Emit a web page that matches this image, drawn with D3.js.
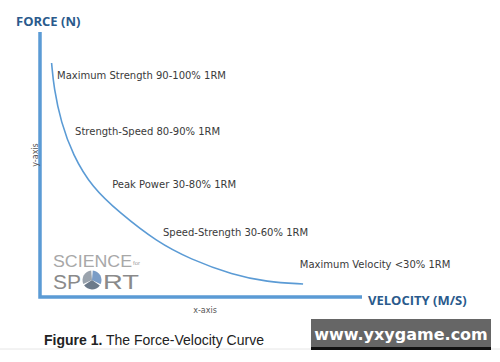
<!DOCTYPE html>
<html>
<head>
<meta charset="utf-8">
<script src="https://cdn.jsdelivr.net/npm/d3@7"></script>
<style>
  body { margin: 0; background: #fff; }
  svg { display: block; }
</style>
</head>
<body>
<svg id="chart" width="500" height="362"></svg>
<script>
// curve (arbitrary 0-100 units)
var velocity = [3.6, 4.3, 6.5, 10.2, 16.1, 24.8, 36.3, 46.6, 59.9, 70.5, 81.7];
var force    = [88.3, 78.9, 66.0, 53.6, 41.5, 31.7, 20.8, 14.3, 8.3, 5.7, 4.9];

// zone labels, anchored at a point in the same units
var zoneNames = ["Maximum Strength 90-100% 1RM", "Strength-Speed 80-90% 1RM",
                 "Peak Power 30-80% 1RM", "Speed-Strength 30-60% 1RM",
                 "Maximum Velocity <30% 1RM"];
var zoneX = [5.3, 10.9, 22.4, 38.2, 80.7];
var zoneY = [83.4, 62.3, 42.3, 24.2, 12.1];

var svg = d3.select("#chart");
var blue = "#5b9bd5", navy = "#2a5a8c";

var x = d3.scaleLinear().domain([0, 100]).range([40, 362]);
var y = d3.scaleLinear().domain([0, 100]).range([297, 32]);

// thin rule near bottom
svg.append("line")
  .attr("x1", 0).attr("x2", 500).attr("y1", 349).attr("y2", 349)
  .attr("stroke", "#e6e6e6").attr("stroke-width", 1);

// axes
svg.append("path")
  .attr("d", d3.line()([[x(0), y(100)], [x(0), y(0)], [x(100), y(0)]]))
  .attr("fill", "none").attr("stroke", blue).attr("stroke-width", 3.5);

// curve
var pts = velocity.map(function (v, i) { return [v, force[i]]; });
svg.append("path")
  .datum(pts)
  .attr("d", d3.line().x(function (d) { return x(d[0]); })
    .y(function (d) { return y(d[1]); }).curve(d3.curveBasis))
  .attr("fill", "none").attr("stroke", blue).attr("stroke-width", 1.6);

// zone labels
svg.selectAll("text.zone")
  .data(zoneNames)
  .enter().append("text")
  .attr("class", "zone")
  .attr("x", function (d, i) { return x(zoneX[i]); })
  .attr("y", function (d, i) { return y(zoneY[i]); })
  .attr("dy", "0.35em")
  .attr("font-family", "'DejaVu Sans', sans-serif")
  .attr("font-size", 10)
  .attr("fill", "#3a3a3a")
  .text(function (d) { return d; });

// axis titles
svg.append("text").attr("x", 16).attr("y", 26)
  .attr("font-family", "'Open Sans', sans-serif").attr("font-weight", "bold")
  .attr("font-size", 13).attr("fill", navy).text("FORCE (N)");
svg.append("text").attr("x", 368).attr("y", 305)
  .attr("font-family", "'Open Sans', sans-serif").attr("font-weight", "bold")
  .attr("font-size", 13).attr("fill", navy).text("VELOCITY (M/S)");

svg.append("text").attr("transform", "translate(35,155) rotate(-90)")
  .attr("text-anchor", "middle").attr("dy", "0.35em")
  .attr("font-family", "'DejaVu Sans', sans-serif").attr("font-size", 8)
  .attr("fill", "#555").text("y-axis");
svg.append("text").attr("x", 205).attr("y", 313).attr("text-anchor", "middle")
  .attr("font-family", "'DejaVu Sans', sans-serif").attr("font-size", 8)
  .attr("fill", "#555").text("x-axis");

// caption
var cap = svg.append("text").attr("x", 44).attr("y", 345)
  .attr("font-family", "'Liberation Sans', Arial, sans-serif").attr("font-size", 14)
  .attr("fill", "#222");
cap.append("tspan").attr("font-weight", "bold").text("Figure 1.");
cap.append("tspan").text(" The Force-Velocity Curve");

// logo
var logo = svg.append("g").attr("fill", "#8a8a8a")
  .attr("font-family", "'Liberation Sans', Arial, sans-serif");
logo.append("text").attr("x", 53).attr("y", 267).attr("font-size", 16)
  .attr("textLength", 79).attr("lengthAdjust", "spacingAndGlyphs")
  .attr("fill", "#a8a8a8").text("SCIENCE");
logo.append("text").attr("x", 133).attr("y", 265).attr("font-size", 6)
  .attr("fill", "#a0a0a0").text("for");
logo.append("text").attr("x", 53).attr("y", 289).attr("font-size", 20)
  .attr("textLength", 28).attr("lengthAdjust", "spacingAndGlyphs").text("SP");
logo.append("text").attr("x", 103).attr("y", 289).attr("font-size", 20)
  .attr("textLength", 36).attr("lengthAdjust", "spacingAndGlyphs").text("RT");
var arc = d3.arc().innerRadius(0).outerRadius(9.5);
var og = logo.append("g").attr("transform", "translate(92,280)");
[[0, 2.1, "#7a9cc6"], [2.1, 4.2, "#6c7a8a"], [4.2, 6.283, "#9aa3ad"]].forEach(function (s) {
  og.append("path").attr("d", arc({startAngle: s[0] + 0.08, endAngle: s[1] - 0.08}))
    .attr("fill", s[2]);
});

// watermark
svg.append("rect").attr("x", 311).attr("y", 319).attr("width", 180).attr("height", 31)
  .attr("fill", "#666");
svg.append("rect").attr("x", 311).attr("y", 347).attr("width", 180).attr("height", 3)
  .attr("fill", "#111");
svg.append("text").attr("x", 401).attr("y", 334).attr("dy", "0.35em")
  .attr("text-anchor", "middle").attr("font-family", "'DejaVu Sans', sans-serif")
  .attr("font-weight", "bold").attr("font-size", 16).attr("fill", "#fff")
  .text("www.yxygame.com");
</script>
</body>
</html>
